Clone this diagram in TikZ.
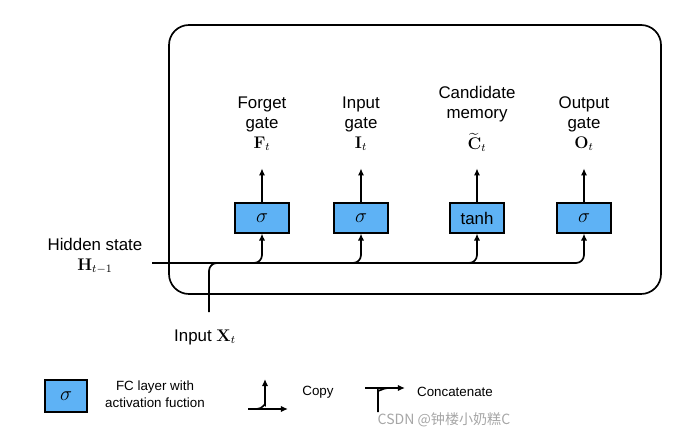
\documentclass[tikz,border=0pt]{standalone}
\usepackage{amsmath}
\usepackage[no-math]{fontspec}
\setmainfont{Liberation Sans}
\newfontfamily\cjk{Noto Sans CJK SC}
\usetikzlibrary{arrows.meta}
\definecolor{fcblue}{RGB}{94,178,245}
\newcommand{\sig}{{\Large$\sigma$}}
\tikzset{
  fclayer/.style={draw, thick, fill=fcblue, minimum width=54*0.025cm, minimum height=30*0.025cm, inner sep=0pt, font=\large},
  conn/.style={line width=1.2pt, rounded corners=8*0.025cm},
  tip/.style={-{Latex[length=5pt,width=4.5pt]}},
  lbl/.style={align=center, font=\large, inner sep=1pt}
}
\begin{document}
\begin{tikzpicture}[x=0.025cm, y=-0.025cm]
    \useasboundingbox (0,0) rectangle (691,439);

    \draw[line width=1.2pt, rounded corners=20*0.025cm] (169,25) rectangle (661,294);

    % gates
    \node[fclayer] (g1) at (262,218) {\sig};
    \node[fclayer] (g2) at (361,218) {\sig};
    \node[fclayer] (g3) at (477,218) {tanh};
    \node[fclayer] (g4) at (584,218) {\sig};

    \node[lbl] (f) at (262,124) {Forget\\gate\\$\mathbf{F}_t$};
    \node[lbl] (i) at (361,124) {Input\\gate\\$\mathbf{I}_t$};
    \node[lbl] (c) at (477,119) {Candidate\\memory\\[7pt]$\widetilde{\mathbf{C}}_t$};
    \node[lbl] (o) at (584,124) {Output\\gate\\$\mathbf{O}_t$};

    \foreach \g in {g1,g2,g3,g4}
      \draw[conn, tip] (\g.north) -- ++(0,-34);

    % inputs
    \node[lbl, anchor=east] (hs) at (144,256) {Hidden state\\$\mathbf{H}_{t-1}$};
    \coordinate (hid) at (152,263);
    \node[lbl] (xin) at (205,337) {Input $\mathbf{X}_t$};
    \coordinate (xbot) at (209,312);

    \foreach \g in {g1,g2,g3,g4}
      \draw[conn, tip] (hid) -| (\g.south);
    \draw[conn] (xbot) |- (240,263);

    % legend
    \node[fclayer, minimum width=42*0.025cm, minimum height=32*0.025cm] (lg) at (66,396) {\sig};
    \node[align=center, inner sep=1pt, font=\fontsize{9.5}{12}\selectfont] (lgt) at (155,394) {FC layer with\\activation fuction};

    \coordinate (cpa) at (248,409);
    \coordinate (cpb) at (288,409);
    \draw[conn, tip] (cpa) -- (cpb);
    \draw[conn, tip] (257,409) to[out=0, in=-90] (265,397) -- (265,379);
    \node[font=\fontsize{9.5}{12}\selectfont] (cpt) at (318,392) {Copy};

    \coordinate (cca) at (365,388);
    \coordinate (ccb) at (405,388);
    \draw[conn, tip] (cca) -- (ccb);
    \draw[conn] (378,412) -- (378,398) to[out=90, in=180] (388,388);
    \node[font=\fontsize{9.5}{12}\selectfont] (cct) at (455,392) {Concatenate};

    \node[text=gray!70, font=\cjk] (wm) at (444,420) {CSDN @钟楼小奶糕C};
\end{tikzpicture}
\end{document}
